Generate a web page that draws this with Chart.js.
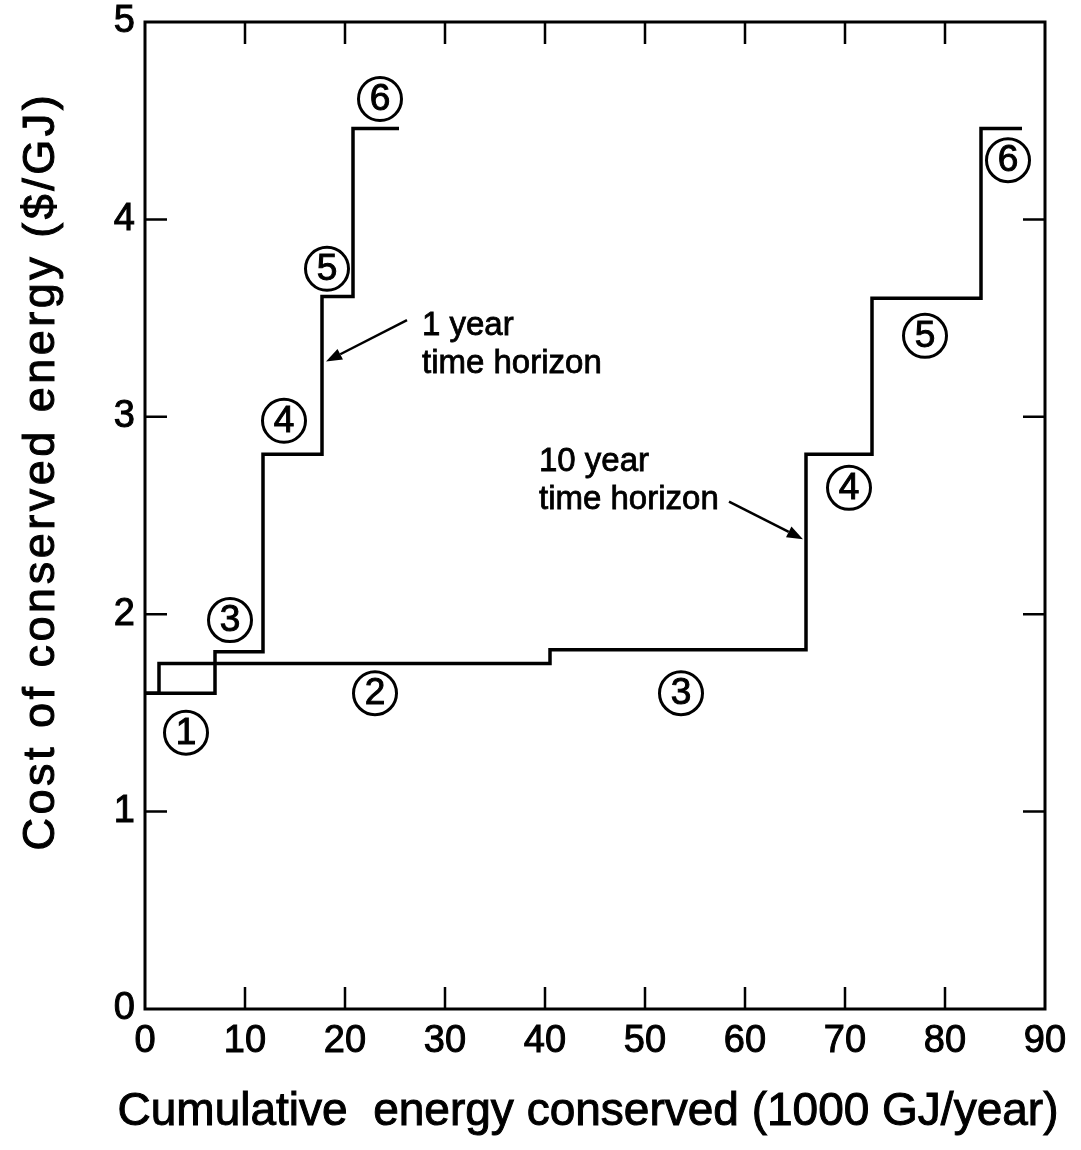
<!DOCTYPE html>
<html>
<head>
<meta charset="utf-8">
<script src="https://cdn.jsdelivr.net/npm/chart.js@4.4.1/dist/chart.umd.min.js"></script>
<style>
html,body{margin:0;padding:0;background:#fff;}
#wrap{width:1081px;height:1150px;position:relative;}
canvas{display:block;}
</style>
</head>
<body>
<div id="wrap"><canvas id="c" width="1081" height="1150"></canvas></div>
<script>
// ---------- data ----------
const xTicks = [0, 10, 20, 30, 40, 50, 60, 70, 80, 90];
const yTicks = [0, 1, 2, 3, 4, 5];

// step starts (cumulative energy, 1000 GJ/yr) and cost ($/GJ)
const oneYearEnergy = [0, 7.0, 11.8, 17.7, 20.8, 25.4];
const oneYearCost   = [1.60, 1.81, 2.81, 3.61, 4.46, 4.46];
const tenYearEnergy = [0, 1.4, 40.5, 66.1, 72.7, 83.6, 87.7];
const tenYearCost   = [1.60, 1.75, 1.82, 2.81, 3.60, 4.46, 4.46];

// circled measure numbers
const oneYearMeasures = ['1', '3', '4', '5', '6'];
const oneYearLabelX   = [4.1, 8.5, 13.9, 18.2, 23.5];
const oneYearLabelY   = [1.40, 1.97, 2.98, 3.75, 4.61];
const tenYearMeasures = ['2', '3', '4', '5', '6'];
const tenYearLabelX   = [23.0, 53.6, 70.4, 78.0, 86.3];
const tenYearLabelY   = [1.60, 1.60, 2.64, 3.41, 4.30];

const xTitle = 'Cumulative  energy conserved (1000 GJ/year)';
const yTitle = 'Cost of conserved energy ($/GJ)';
const oneYearNote = ['1 year', 'time horizon'];
const tenYearNote = ['10 year', 'time horizon'];

// ---------- annotation placement (data units) ----------
const notes = [
  {lines: oneYearNote, x: 27.7, y: [3.46, 3.27], from: [26.2, 3.49], to: [18.1, 3.28]},
  {lines: tenYearNote, x: 39.4, y: [2.77, 2.58], from: [58.4, 2.57], to: [65.8, 2.38]}
];

const FONT = '"Liberation Sans", Arial, sans-serif';

function heavyText(ctx, s, px, py) {
  ctx.fillText(s, px, py);
  ctx.strokeText(s, px, py);
}

const framePlugin = {
  id: 'frame',
  afterDatasetsDraw(chart) {
    const {ctx, chartArea: a, scales: {x, y}} = chart;
    ctx.save();
    ctx.strokeStyle = '#000';
    ctx.lineWidth = 3;
    ctx.strokeRect(a.left, a.top, a.right - a.left, a.bottom - a.top);
    ctx.lineWidth = 2.5;
    const L = 22;
    ctx.beginPath();
    xTicks.forEach(v => {
      if (v === x.min || v === x.max) return;
      const p = x.getPixelForValue(v);
      ctx.moveTo(p, a.bottom); ctx.lineTo(p, a.bottom - L);
      ctx.moveTo(p, a.top); ctx.lineTo(p, a.top + L);
    });
    yTicks.forEach(v => {
      if (v === y.min || v === y.max) return;
      const p = y.getPixelForValue(v);
      ctx.moveTo(a.left, p); ctx.lineTo(a.left + L, p);
      ctx.moveTo(a.right, p); ctx.lineTo(a.right - L, p);
    });
    ctx.stroke();
    ctx.restore();
  }
};

function circled(ctx, px, py, t) {
  ctx.beginPath();
  ctx.arc(px, py, 21.5, 0, Math.PI * 2);
  ctx.lineWidth = 3;
  ctx.stroke();
  ctx.font = '37px ' + FONT;
  ctx.textAlign = 'center';
  ctx.textBaseline = 'middle';
  ctx.lineWidth = 1;
  heavyText(ctx, t, px, py + 1);
}

const annotPlugin = {
  id: 'annot',
  afterDraw(chart) {
    const {ctx, chartArea: a, scales: {x, y}} = chart;
    ctx.save();
    ctx.fillStyle = '#000';
    ctx.strokeStyle = '#000';
    oneYearMeasures.forEach((t, i) => circled(ctx, x.getPixelForValue(oneYearLabelX[i]), y.getPixelForValue(oneYearLabelY[i]), t));
    tenYearMeasures.forEach((t, i) => circled(ctx, x.getPixelForValue(tenYearLabelX[i]), y.getPixelForValue(tenYearLabelY[i]), t));

    notes.forEach(n => {
      ctx.font = '33px ' + FONT;
      ctx.textAlign = 'left';
      ctx.textBaseline = 'middle';
      ctx.lineWidth = 0.8;
      n.lines.forEach((s, i) => heavyText(ctx, s, x.getPixelForValue(n.x), y.getPixelForValue(n.y[i])));
      const x0 = x.getPixelForValue(n.from[0]), y0 = y.getPixelForValue(n.from[1]);
      const x1 = x.getPixelForValue(n.to[0]), y1 = y.getPixelForValue(n.to[1]);
      const ang = Math.atan2(y1 - y0, x1 - x0);
      const hl = 16, hw = 6;
      const bx = x1 - hl * Math.cos(ang), by = y1 - hl * Math.sin(ang);
      ctx.lineWidth = 2.5;
      ctx.beginPath(); ctx.moveTo(x0, y0); ctx.lineTo(bx, by); ctx.stroke();
      ctx.beginPath();
      ctx.moveTo(x1, y1);
      ctx.lineTo(bx + hw * Math.sin(ang), by - hw * Math.cos(ang));
      ctx.lineTo(bx - hw * Math.sin(ang), by + hw * Math.cos(ang));
      ctx.closePath(); ctx.fill();
    });

    // x axis title
    ctx.font = '46px ' + FONT;
    ctx.letterSpacing = '0px';
    ctx.textAlign = 'center';
    ctx.textBaseline = 'middle';
    ctx.lineWidth = 1;
    heavyText(ctx, xTitle, (a.left + a.right) / 2 - 7, a.bottom + 103);

    // y axis title
    ctx.translate(42, a.top + 0.455 * (a.bottom - a.top));
    ctx.rotate(-Math.PI / 2);
    ctx.font = '45px ' + FONT;
    ctx.letterSpacing = '3.5px';
    heavyText(ctx, yTitle, 0, 0);
    ctx.restore();
  }
};

const lineStyle = {
  stepped: true, borderColor: '#000', borderWidth: 3.5, pointRadius: 0,
  fill: false, borderJoinStyle: 'miter', borderCapStyle: 'butt', tension: 0
};

const tickOpts = {color: '#000', font: {family: FONT, size: 38}, padding: 10, textStrokeColor: '#000', textStrokeWidth: 1};

new Chart(document.getElementById('c'), {
  type: 'line',
  data: {
    datasets: [
      Object.assign({label: '1 year time horizon', data: oneYearEnergy.map((e, i) => ({x: e, y: oneYearCost[i]}))}, lineStyle),
      Object.assign({label: '10 year time horizon', data: tenYearEnergy.map((e, i) => ({x: e, y: tenYearCost[i]}))}, lineStyle)
    ]
  },
  options: {
    responsive: false,
    animation: false,
    devicePixelRatio: 1,
    layout: {padding: {top: 22, right: 36, left: 0, bottom: 0}},
    plugins: {legend: {display: false}, tooltip: {enabled: false}},
    scales: {
      x: {
        type: 'linear', min: 0, max: 90,
        afterBuildTicks: s => { s.ticks = xTicks.map(v => ({value: v})); },
        grid: {display: false, drawTicks: false},
        border: {display: false},
        ticks: Object.assign({maxRotation: 0, autoSkip: false}, tickOpts),
        afterFit: s => { s.height = 141; s.paddingLeft = 0; s.paddingRight = 0; }
      },
      y: {
        type: 'linear', min: 0, max: 5,
        afterBuildTicks: s => { s.ticks = yTicks.map(v => ({value: v})); },
        grid: {display: false, drawTicks: false},
        border: {display: false},
        ticks: tickOpts,
        afterFit: s => { s.width = 145; s.paddingTop = 0; s.paddingBottom = 0; }
      }
    }
  },
  plugins: [framePlugin, annotPlugin]
});
</script>
</body>
</html>
